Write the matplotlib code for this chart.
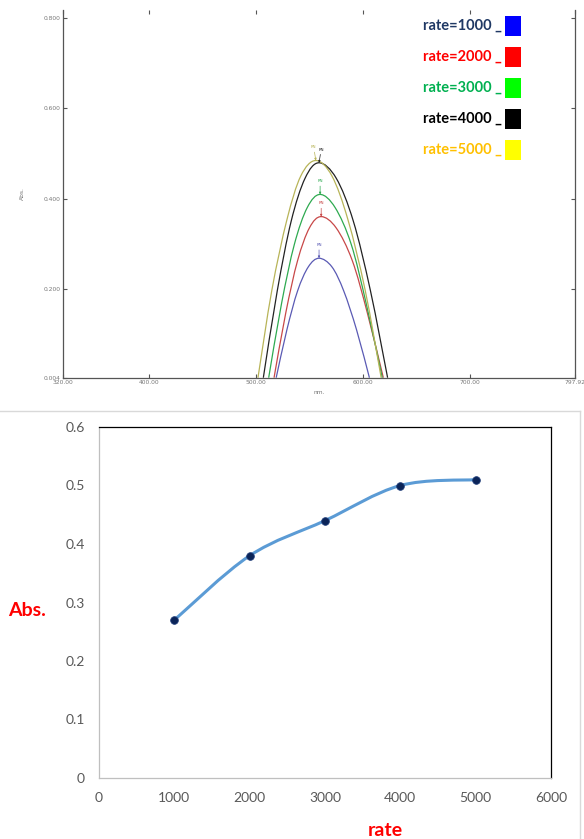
import numpy as np
import matplotlib.pyplot as plt
from matplotlib.path import Path
from matplotlib.patches import PathPatch, Rectangle

# absorption spectra, wavelength (nm) vs Abs.
blue_nm = [519, 529, 539, 549, 559, 571, 582, 594, 606]
blue_abs = [0.004, 0.110, 0.196, 0.249, 0.268, 0.249, 0.196, 0.110, 0.004]
red_nm = [517, 528, 539, 550, 561, 575, 590, 604, 619]
red_abs = [0.004, 0.148, 0.263, 0.335, 0.360, 0.335, 0.263, 0.148, 0.004]
green_nm = [512, 524, 536, 548, 560, 574, 589, 603, 618]
green_abs = [0.004, 0.168, 0.299, 0.380, 0.409, 0.380, 0.299, 0.168, 0.004]
black_nm = [507, 520, 533, 546, 559, 575, 591, 607, 623]
black_abs = [0.004, 0.196, 0.350, 0.445, 0.479, 0.445, 0.350, 0.196, 0.004]
yellow_nm = [502, 515, 529, 542, 556, 571, 586, 602, 617]
yellow_abs = [0.004, 0.198, 0.353, 0.450, 0.484, 0.450, 0.353, 0.198, 0.004]

legend_labels = ['rate=1000', 'rate=2000', 'rate=3000', 'rate=4000', 'rate=5000']
legend_text_colors = ['#1f3864', '#ff0000', '#00b050', '#000000', '#ffc000']
legend_box_colors = ['#0000ff', '#ff0000', '#00ff00', '#000000', '#ffff00']

# peak absorbance against rate
rate = [1000, 2000, 3000, 4000, 5000]
absorbance = [0.27, 0.38, 0.44, 0.50, 0.51]


def smooth_path(xs, ys):
    # Catmull-Rom through the points, written as cubic Bezier segments
    pts = np.column_stack([xs, ys]).astype(float)
    n = len(pts)
    verts = [pts[0]]
    codes = [Path.MOVETO]
    for i in range(n - 1):
        p0 = pts[max(i - 1, 0)]
        p1 = pts[i]
        p2 = pts[i + 1]
        p3 = pts[min(i + 2, n - 1)]
        verts += [p1 + (p2 - p0) / 6, p2 - (p3 - p1) / 6, p2]
        codes += [Path.CURVE4] * 3
    return Path(verts, codes)


W, H = 584, 839
fig = plt.figure(figsize=(W / 100, H / 100), dpi=100)

# ---- spectrophotometer scan ----
ax1 = fig.add_axes([63 / W, 1 - 377.7 / H, 512 / W, 367.7 / H])
ax1.set_xlim(320, 797.92)
ax1.set_ylim(0.004, 0.8166)

spectra = [
    (blue_nm, blue_abs, '#5a5ab4'),
    (red_nm, red_abs, '#c84848'),
    (green_nm, green_abs, '#2eaa50'),
    (black_nm, black_abs, '#222222'),
    (yellow_nm, yellow_abs, '#b8b458'),
]
for nm, ab, col in spectra:
    ax1.add_patch(PathPatch(smooth_path(nm, ab), fill=False, edgecolor=col, lw=0.9))

# peak pick markers
offsets = [0, 0, 0, 1.5, -1.5]
for (nm, ab, col), dx in zip(spectra, offsets):
    k = int(np.argmax(ab))
    ax1.annotate('PN', xy=(nm[k], ab[k]), xytext=(dx, 8), textcoords='offset points',
                 ha='center', va='bottom', fontsize=3, color=col,
                 arrowprops=dict(arrowstyle='-|>', color=col, lw=0.5,
                                 mutation_scale=3, shrinkA=0, shrinkB=0))

xt = [320, 400, 500, 600, 700, 797.92]
yt = [0.004, 0.2, 0.4, 0.6, 0.8]
ax1.set_xticks(xt)
ax1.set_xticklabels(['%.2f' % v for v in xt])
ax1.set_yticks(yt)
ax1.set_yticklabels(['%.3f' % v for v in yt])
ax1.tick_params(direction='in', length=3, width=0.8, color='#555555',
                labelcolor='#777777', labelsize=4.3, pad=2, right=True, top=True)
ax1.spines['top'].set_visible(False)
for s in ['left', 'right', 'bottom']:
    ax1.spines[s].set_color('#555555')
    ax1.spines[s].set_linewidth(0.9)
ax1.set_xlabel('nm.', fontsize=4.3, color='#777777', labelpad=3)
ax1.set_ylabel('Abs.', fontsize=4.3, color='#777777', labelpad=13)

# colour key
for i, (lab, tc, bc) in enumerate(zip(legend_labels, legend_text_colors, legend_box_colors)):
    yc = 26 + i * 31
    fig.text(423 / W, 1 - yc / H, lab + ' _', color=tc, fontsize=10.5,
             fontweight='bold', family='Lato', ha='left', va='center')
    fig.patches.append(Rectangle((505 / W, 1 - (yc + 10) / H), 16 / W, 20 / H,
                                 transform=fig.transFigure, facecolor=bc,
                                 edgecolor='none'))

# chart area border
fig.add_artist(plt.Line2D([0, 580 / W], [1 - 411 / H] * 2, color='#d9d9d9', lw=1))
fig.add_artist(plt.Line2D([580 / W] * 2, [1 - 411 / H, 0], color='#d9d9d9', lw=1))

# ---- absorbance vs rate ----
ax2 = fig.add_axes([99 / W, 1 - 778 / H, 452 / W, 351 / H])
ax2.set_xlim(0, 6000)
ax2.set_ylim(0, 0.6)
ax2.add_patch(PathPatch(smooth_path(rate, absorbance), fill=False,
                        edgecolor='#5b9bd5', lw=2.2, capstyle='round'))
ax2.plot(rate, absorbance, 'o', ms=5.5, color='#0b2458', mec='#1f3d7a', mew=0.6, zorder=3)

ax2.set_xticks(np.arange(0, 6001, 1000))
ax2.set_yticks(np.arange(0, 0.61, 0.1))
ax2.set_yticklabels(['0'] + ['%.1f' % v for v in np.arange(0.1, 0.61, 0.1)])
ax2.tick_params(length=0, labelsize=10, labelcolor='#595959', pad=10)
for lab in ax2.get_xticklabels() + ax2.get_yticklabels():
    lab.set_family('Lato')
ax2.spines['top'].set_color('#000000')
ax2.spines['right'].set_color('#000000')
ax2.spines['left'].set_color('#bfbfbf')
ax2.spines['bottom'].set_color('#bfbfbf')
for s in ax2.spines.values():
    s.set_linewidth(0.9)

fig.text(27 / W, 1 - 610 / H, 'Abs.', color='#ff0000', fontsize=14,
         fontweight='bold', family='Lato', ha='center', va='center')
fig.text(385 / W, 1 - 831 / H, 'rate', color='#ff0000', fontsize=14,
         fontweight='bold', family='Lato', ha='center', va='center')

fig.savefig('out.png', dpi=100)
